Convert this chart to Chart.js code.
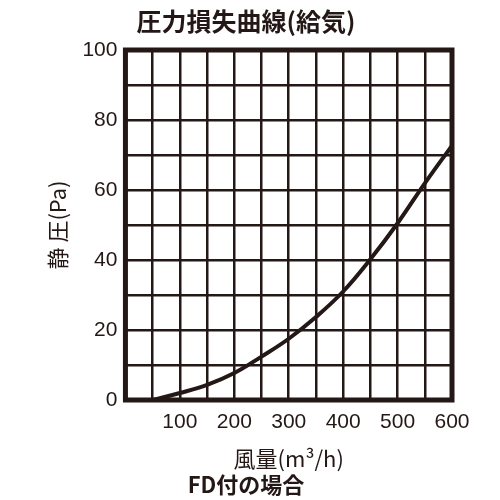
<!DOCTYPE html><html><head><meta charset="utf-8">
<script src="https://cdn.jsdelivr.net/npm/chart.js@4"></script>
<style>html,body{margin:0;background:#fff}#w{width:500px;height:500px}</style></head><body><div id="w"><canvas id="c"></canvas></div>
<script>
const airflow=[50,100,150,200,250,300,350,400,450,500,550,600];
const pressure=[0,2,4.3,7.7,12.4,17.5,23.7,31,40.2,50.5,61.9,72.7];
const xTicks=[100,200,300,400,500,600];
const yTicks=[0,20,40,60,80,100];
const ink='#231815';
const frame={id:'frame',afterDraw(c){const a=c.chartArea,x=c.ctx;x.save();x.strokeStyle=ink;x.lineWidth=5;x.strokeRect(a.left,a.top,a.right-a.left,a.bottom-a.top);x.restore();}};
new Chart(document.getElementById('c'),{type:'scatter',
data:{datasets:[{data:airflow.map((v,i)=>({x:v,y:pressure[i]})),showLine:true,borderColor:ink,borderWidth:4,pointRadius:0,tension:0.4}]},
options:{responsive:true,maintainAspectRatio:false,animation:false,
layout:{padding:{left:40,right:48,top:4,bottom:0}},
plugins:{legend:{display:false},tooltip:{enabled:false},
title:{display:true,text:'圧力損失曲線(給気)',color:ink,font:{family:'Noto Sans CJK JP',size:25,weight:'bold'},padding:{top:2,bottom:14}},
subtitle:{display:true,position:'bottom',text:'FD付の場合',color:ink,font:{family:'Noto Sans CJK JP',size:22,weight:'bold'},padding:{top:0,bottom:2}}},
scales:{
x:{type:'linear',min:0,max:600,border:{display:false},grid:{color:ink,lineWidth:2.5,drawTicks:false},
ticks:{stepSize:50,autoSkip:false,maxRotation:0,minRotation:0,color:ink,padding:10,font:{family:'Liberation Sans',size:21},callback:v=>xTicks.includes(v)?String(v):''},
title:{display:true,text:'風量(m³/h)',color:ink,font:{family:'Noto Sans CJK JP',size:22},padding:{top:0,bottom:0}}},
y:{min:0,max:100,border:{display:false},grid:{color:ink,lineWidth:2.5,drawTicks:false},
ticks:{stepSize:10,autoSkip:false,color:ink,padding:8,font:{family:'Liberation Sans',size:21},callback:v=>yTicks.includes(v)?String(v):''},
title:{display:true,text:'静 圧(Pa)',color:ink,font:{family:'Noto Sans CJK JP',size:22},padding:{bottom:4}}}}},
plugins:[frame]});
</script></body></html>
